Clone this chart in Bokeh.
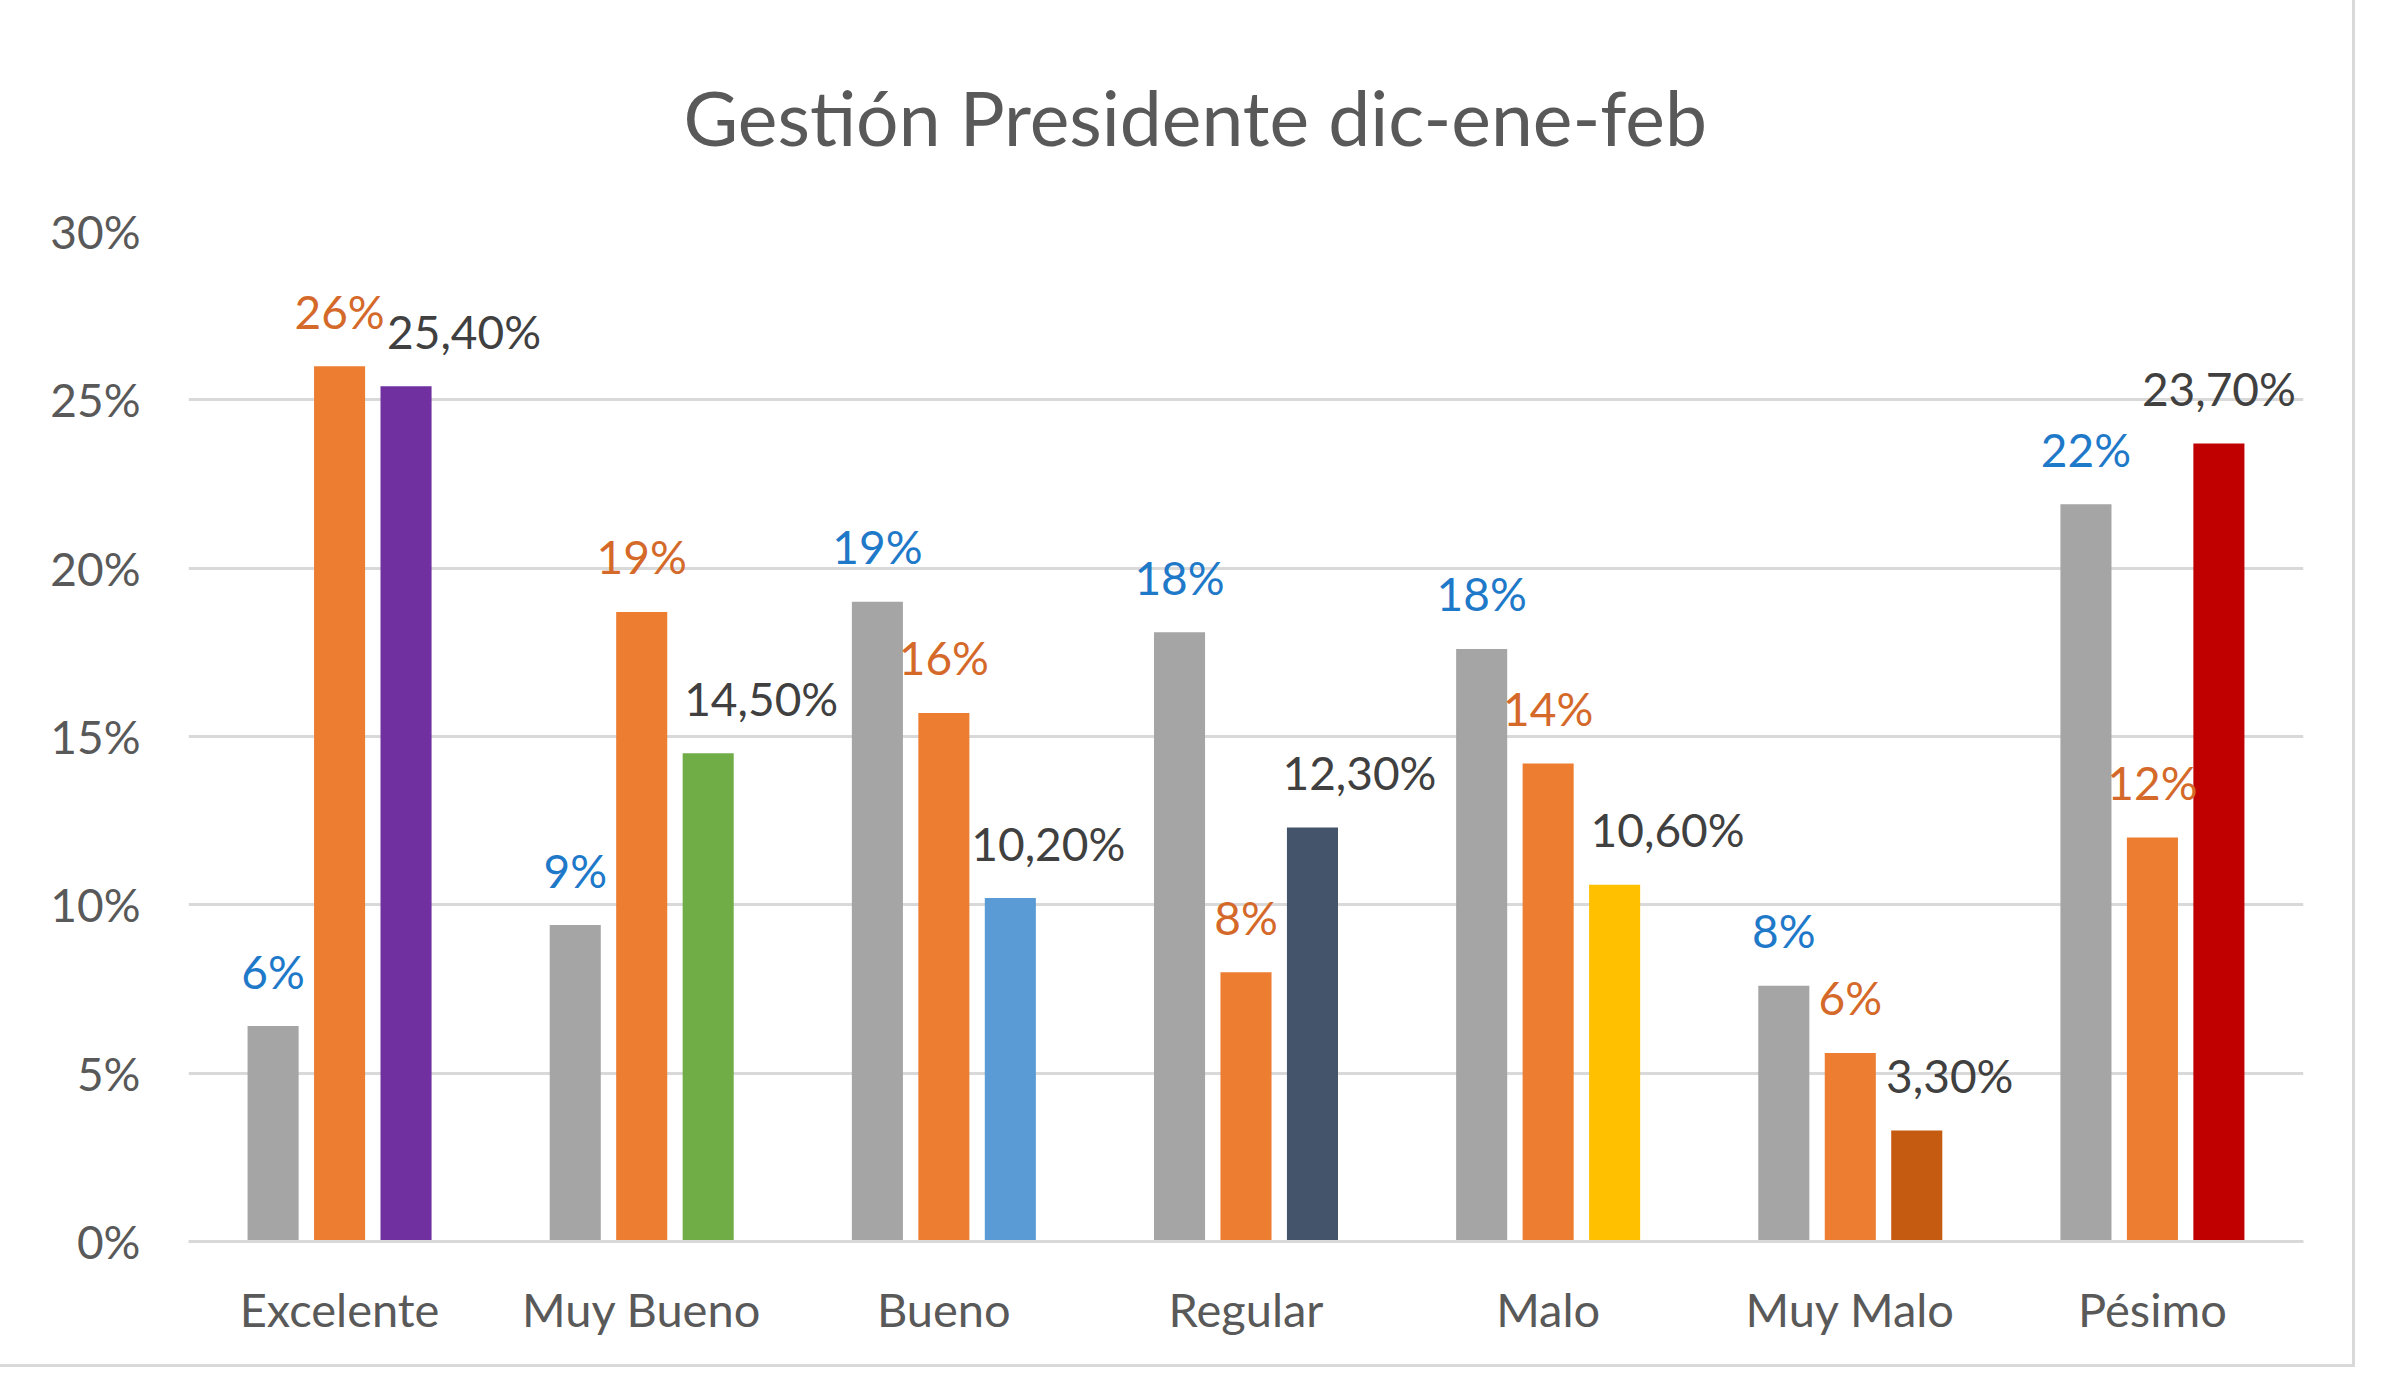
from bokeh.plotting import figure
from bokeh.models import (FactorRange, ColumnDataSource, Title, NumeralTickFormatter,
                          FixedTicker)
from bokeh.transform import dodge
from bokeh.core.properties import value
from bokeh.embed import file_html
from bokeh.resources import INLINE

# ---------------- data ----------------
categories = ["Excelente", "Muy Bueno", "Bueno", "Regular", "Malo", "Muy Malo", "Pésimo"]
dic = [6.4, 9.4, 19.0, 18.1, 17.6, 7.6, 21.9]        # grey series (%)
ene = [26.0, 18.7, 15.7, 8.0, 14.2, 5.6, 12.0]       # orange series (%)
feb = [25.4, 14.5, 10.2, 12.3, 10.6, 3.3, 23.7]      # third series (%)
y_ticks = [0, 5, 10, 15, 20, 25, 30]
title_text = "Gestión Presidente dic-ene-feb"

# ---------------- styles ----------------
grey_col = "#A5A5A5"
orange_col = "#ED7D31"
feb_cols = ["#7030A0", "#70AD47", "#5B9BD5", "#44546A", "#FFC000", "#C55A11", "#C00000"]
feb_label_shift = [58, 53, 38, 47, 53, 33, 0]   # px, horizontal nudges of the feb labels
FONT = "Lato"
RED = "#FF3333"
FRAME_GREY = "#D9D9D9"

src = ColumnDataSource(dict(
    cat=categories,
    dic=dic, ene=ene, feb=feb,
    dic_lbl=[f"{round(v):d}%" for v in dic],
    ene_lbl=[f"{round(v):d}%" for v in ene],
    feb_lbl=[f"{v:.2f}%".replace(".", ",") for v in feb],
    feb_col=feb_cols,
    feb_shift=feb_label_shift,
))

p = figure(
    x_range=FactorRange(*categories, range_padding=0),
    y_range=(0, 30),
    width=2352, height=1364,
    output_backend="svg", toolbar_location=None,
    min_border_left=188, min_border_right=49, min_border_top=226, min_border_bottom=123,
    background_fill_color="white", border_fill_color="white",
    outline_line_color=None,
)
p.styles = {"box-shadow": f"0 0 0 3px {FRAME_GREY}, -40px -30px 0 0 {RED}"}

t = Title(text=title_text, align="left",
          text_font=FONT, text_font_size="75px", text_font_style="normal",
          text_color="#595959", standoff=139, offset=495)
p.add_layout(t, "above")

W = 0.169
OFF = 0.22
p.vbar(x=dodge("cat", -OFF, range=p.x_range), top="dic", width=W, source=src,
       fill_color=grey_col, line_color=None)
p.vbar(x=dodge("cat", 0, range=p.x_range), top="ene", width=W, source=src,
       fill_color=orange_col, line_color=None)
p.vbar(x=dodge("cat", OFF, range=p.x_range), top="feb", width=W, source=src,
       fill_color="feb_col", line_color=None)

lbl_kw = dict(text_font=value(FONT), text_font_size="46px", text_align="center",
              text_baseline="middle", y_offset=-55, source=src)
p.text(x=dodge("cat", -OFF, range=p.x_range), y="dic", text="dic_lbl",
       text_color="#1F79C9", **lbl_kw)
p.text(x=dodge("cat", 0, range=p.x_range), y="ene", text="ene_lbl",
       text_color="#D4692A", **lbl_kw)
p.text(x=dodge("cat", OFF, range=p.x_range), y="feb", text="feb_lbl",
       text_color="#404040", x_offset="feb_shift", **lbl_kw)

# grid
p.xgrid.grid_line_color = None
p.ygrid.grid_line_color = FRAME_GREY
p.ygrid.grid_line_width = 3
p.ygrid.ticker = FixedTicker(ticks=y_ticks)

# axes
p.yaxis.ticker = FixedTicker(ticks=y_ticks)
p.yaxis.formatter = NumeralTickFormatter(format="0")
p.yaxis.major_label_overrides = {v: f"{v}%" for v in y_ticks}
p.yaxis.axis_line_color = None
p.yaxis.major_tick_line_color = None
p.yaxis.minor_tick_line_color = None
p.yaxis.major_label_standoff = 42
p.yaxis.major_label_text_font = FONT
p.yaxis.major_label_text_font_size = "46px"
p.yaxis.major_label_text_color = "#595959"

p.xaxis.axis_line_color = FRAME_GREY
p.xaxis.axis_line_width = 3
p.xaxis.major_tick_line_color = None
p.xaxis.minor_tick_line_color = None
p.xaxis.major_label_standoff = 33
p.xaxis.major_label_text_font = FONT
p.xaxis.major_label_text_font_size = "47px"
p.xaxis.major_label_text_color = "#595959"

open("out.html", "w").write(file_html(p, INLINE))
